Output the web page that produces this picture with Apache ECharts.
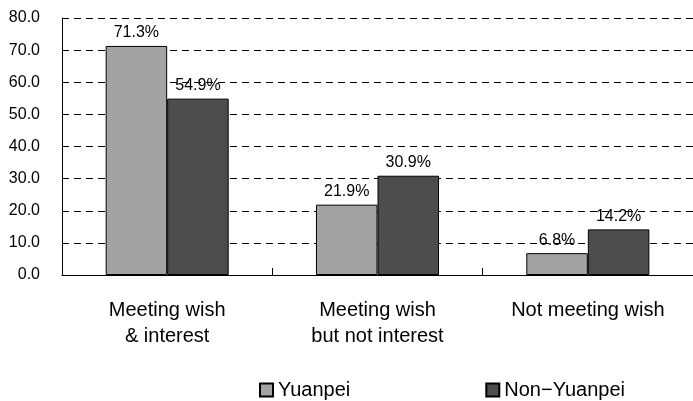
<!DOCTYPE html>
<html>
<head>
<meta charset="utf-8">
<script src="https://cdn.jsdelivr.net/npm/echarts@6/dist/echarts.min.js"></script>
<style>
  html, body { margin: 0; padding: 0; background: #fff; }
  #chart { width: 693px; height: 401px; }
</style>
</head>
<body>
<div id="chart"></div>
<script>
// data
const categories = ['Meeting wish\n& interest', 'Meeting wish\nbut not interest', 'Not meeting wish']
const yuanpei = [71.3, 21.9, 6.8]
const nonYuanpei = [54.9, 30.9, 14.2]
const seriesNames = ['Yuanpei', 'Non\u2212Yuanpei']

const font = 'Liberation Sans, Arial, sans-serif'

const chart = echarts.init(document.getElementById('chart'))

const label = {
  show: true,
  position: 'top',
  distance: 5,
  color: '#000',
  fontSize: 16,
  fontFamily: font,
  formatter: p => p.value.toFixed(1) + '%'
}

chart.setOption({
  animation: false,
  backgroundColor: '#fff',
  textStyle: { fontFamily: font },
  grid: { left: 62, right: -7, top: 18, bottom: 126 },
  legend: {
    top: 375,
    left: 254,
    itemGap: 135,
    itemWidth: 13,
    itemHeight: 13,
    icon: 'rect',
    textStyle: { fontSize: 20, color: '#000', fontFamily: font },
    data: seriesNames
  },
  xAxis: {
    type: 'category',
    data: categories,
    axisLine: { lineStyle: { color: '#000', width: 1 } },
    axisTick: { show: true, inside: true, length: 7, lineStyle: { color: '#000' } },
    axisLabel: {
      color: '#000',
      fontSize: 20,
      lineHeight: 26,
      margin: 22,
      fontFamily: font,
      interval: 0
    }
  },
  yAxis: {
    type: 'value',
    min: 0,
    max: 80,
    interval: 10,
    axisLine: { show: true, lineStyle: { color: '#000', width: 1 } },
    axisTick: { show: false },
    axisLabel: {
      color: '#000',
      fontSize: 16,
      margin: 22,
      fontFamily: font,
      formatter: v => v.toFixed(1)
    },
    splitLine: {
      lineStyle: { color: '#000', type: [7, 5], width: 1 }
    }
  },
  series: [
    {
      name: seriesNames[0],
      type: 'bar',
      data: yuanpei,
      barGap: '0%',
      barCategoryGap: '41.5%',
      itemStyle: { color: '#a3a3a3', borderColor: '#000', borderWidth: 1 },
      label: label
    },
    {
      name: seriesNames[1],
      type: 'bar',
      data: nonYuanpei,
      itemStyle: { color: '#4d4d4d', borderColor: '#000', borderWidth: 1 },
      label: label
    }
  ]
})
</script>
</body>
</html>
